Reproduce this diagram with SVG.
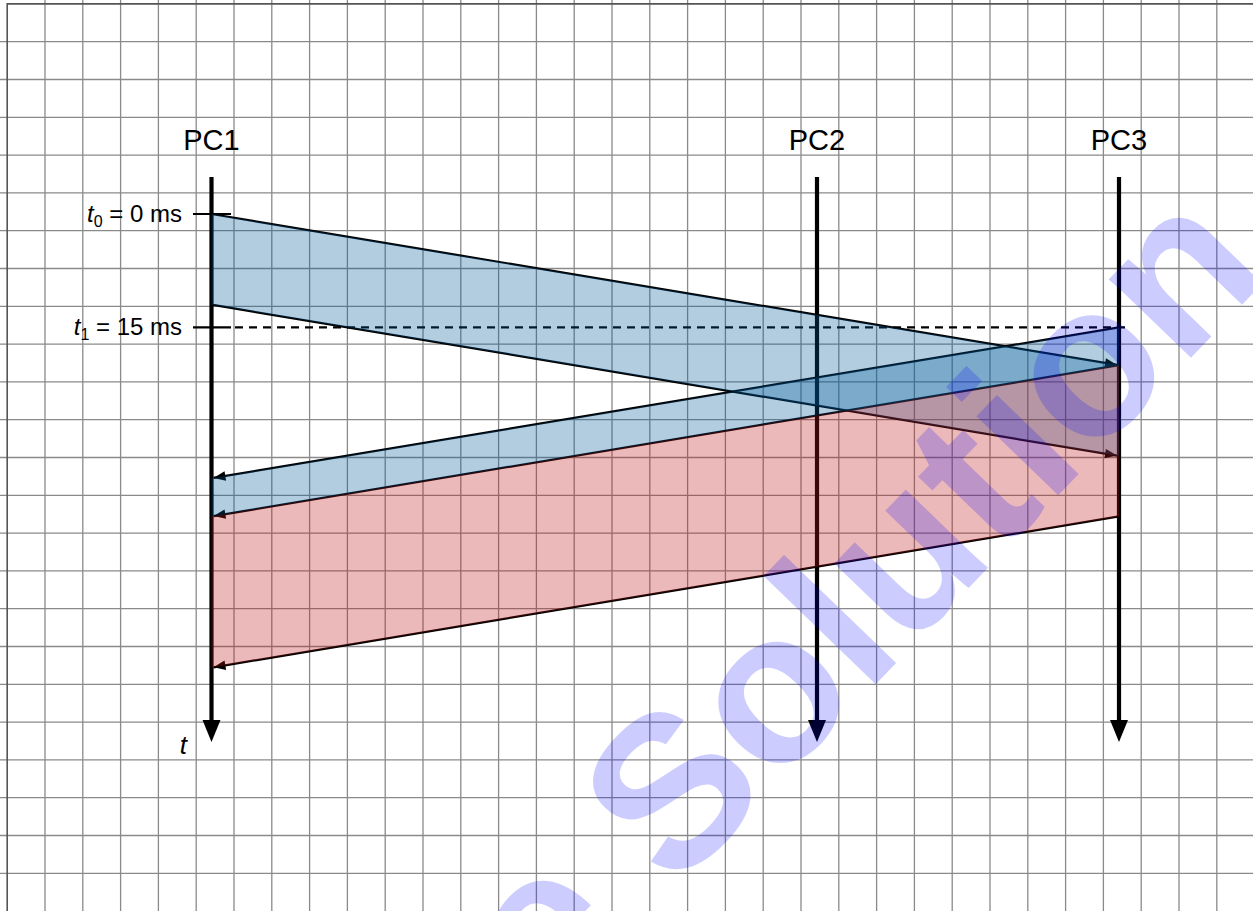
<svg xmlns="http://www.w3.org/2000/svg" width="1253" height="911" viewBox="0 0 1253 911">
<style>
.grid{stroke:#8a8a8a;stroke-width:1.3;fill:none}
.frame{stroke:#555;stroke-width:1.6;fill:none}
.axis{stroke:#000;stroke-width:4.2;fill:none}
.head{fill:#000}
.lbl{font-family:"Liberation Sans",Arial,sans-serif;font-size:29px;fill:#000;text-anchor:middle}
.tl{font-family:"Liberation Sans",Arial,sans-serif;font-size:24px;fill:#000;text-anchor:end}
.it{font-style:italic}
.msg{stroke:#000;stroke-width:2.2;fill:none;marker-end:url(#ah)}
.tick{stroke:#000;stroke-width:2.2;fill:none}
.dash{stroke:#000;stroke-width:2.2;fill:none;stroke-dasharray:8 6}
.blue{fill:rgb(0,88,152);fill-opacity:0.3}
.red{fill:rgb(192,22,28);fill-opacity:0.3}
.wm{font-family:"Liberation Sans",Arial,sans-serif;font-weight:bold;font-size:215px;fill:#0000ff;fill-opacity:0.2}
</style>
<defs>
<marker id="ah" markerUnits="userSpaceOnUse" markerWidth="14" markerHeight="12" viewBox="-13 -6 14 12" refX="0" refY="0" orient="auto">
<path d="M0,0 L-12,-4.8 L-12,4.8 z" fill="#000"/>
</marker>
</defs>
<rect x="0" y="0" width="1253" height="911" fill="#fff"/>
<g id="grid">
<path class="grid" d="M45,0V911M82.8,0V911M120.6,0V911M158.4,0V911M196.2,0V911M234,0V911M271.8,0V911M309.6,0V911M347.4,0V911M385.2,0V911M423,0V911M460.8,0V911M498.6,0V911M536.4,0V911M574.2,0V911M612,0V911M649.8,0V911M687.6,0V911M725.4,0V911M763.2,0V911M801,0V911M838.8,0V911M876.6,0V911M914.4,0V911M952.2,0V911M990,0V911M1027.8,0V911M1065.6,0V911M1103.4,0V911M1141.2,0V911M1179,0V911M1216.8,0V911"/>
<path class="grid" d="M0,41.7H1253M0,79.5H1253M0,117.3H1253M0,155.1H1253M0,192.9H1253M0,230.7H1253M0,268.5H1253M0,306.3H1253M0,344.1H1253M0,381.9H1253M0,419.7H1253M0,457.5H1253M0,495.3H1253M0,533.1H1253M0,570.9H1253M0,608.7H1253M0,646.5H1253M0,684.3H1253M0,722.1H1253M0,759.9H1253M0,797.7H1253M0,835.5H1253M0,873.3H1253"/>
<path class="frame" d="M7.2,911V3.9H1253"/>
</g>
<g id="PC1">
<text class="lbl" x="211.5" y="150">PC1</text>
<line class="axis" x1="211.5" y1="177" x2="211.5" y2="726"/>
<path class="head" d="M211.5,742 L202.5,720 L220.5,720 z"/>
<text class="tl" x="187" y="754" style="font-size:26px"><tspan class="it">t</tspan></text>
<line class="tick" x1="193" y1="214" x2="231" y2="214"/>
<text class="tl" x="182" y="222"><tspan class="it">t</tspan><tspan font-size="16" dy="5">0</tspan><tspan dy="-5"> = 0 ms</tspan></text>
<line class="tick" x1="193" y1="327.4" x2="231" y2="327.4"/>
<text class="tl" x="182" y="335"><tspan class="it">t</tspan><tspan font-size="16" dy="5">1</tspan><tspan dy="-5"> = 15 ms</tspan></text>
</g>
<g id="PC2">
<text class="lbl" x="817" y="150">PC2</text>
<line class="axis" x1="817" y1="177" x2="817" y2="726"/>
<path class="head" d="M817,742 L808,720 L826,720 z"/>
</g>
<g id="PC3">
<text class="lbl" x="1119" y="150">PC3</text>
<line class="axis" x1="1119" y1="177" x2="1119" y2="726"/>
<path class="head" d="M1119,742 L1110,720 L1128,720 z"/>
</g>
<g id="connectors">
<line class="dash" x1="235" y1="327.4" x2="1128" y2="327.4"/>
<line class="msg" x1="211.5" y1="214" x2="1117" y2="364.9"/>
<line class="msg" x1="211.5" y1="304.7" x2="1117" y2="455.6"/>
<line class="msg" x1="1119" y1="327.4" x2="213.5" y2="477.9"/>
<line class="msg" x1="1119" y1="365.2" x2="213.5" y2="516.1"/>
<line class="msg" x1="1119" y1="516.4" x2="213.5" y2="667.3"/>
</g>
<g id="regions">
<polygon class="blue" points="211.5,214 1119,365.2 1119,456 211.5,304.7"/>
<polygon class="blue" points="1119,327.4 1119,365.2 211.5,516.4 211.5,478.2"/>
<polygon class="red" points="1119,365.2 1119,516.4 211.5,667.6 211.5,516.4"/>
</g>
<g id="watermark">
<text class="wm" transform="translate(674,893) rotate(-46)" x="-824" y="0">Sample Solution</text>
</g>
</svg>
